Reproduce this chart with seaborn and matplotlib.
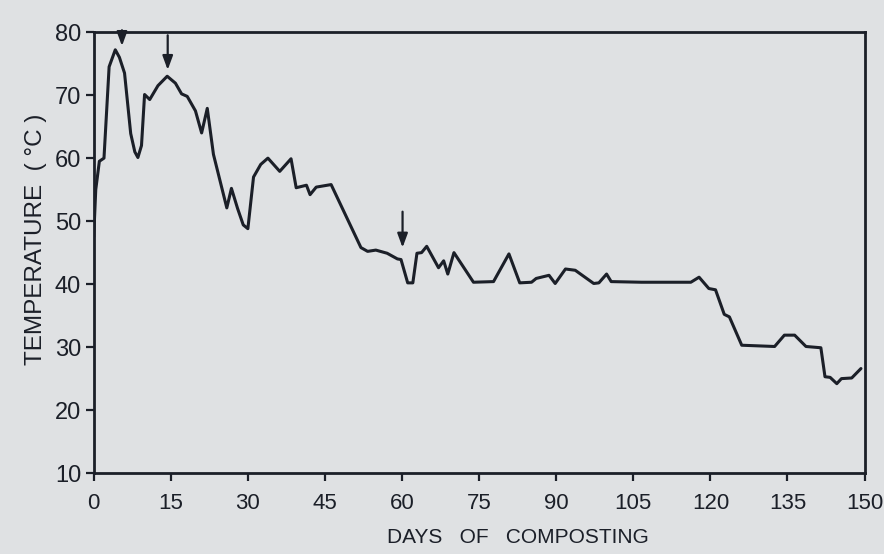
import numpy as np
import pandas as pd
import seaborn as sns
import matplotlib.pyplot as plt

# temperature record
days = [0, 0.4, 1.1, 2.0, 3.0, 4.2, 5.0, 6.0, 7.2, 8.0, 8.6, 9.3, 9.9, 10.9,
        12.5, 14.3, 15.9, 17.1, 18.2, 19.8, 21.0, 22.1, 23.3, 25.9, 26.8,
        28.0, 29.1, 30.0, 31.1, 32.5, 33.9, 36.2, 38.4, 39.4, 41.4, 42.1,
        43.3, 46.2, 52.0, 53.3, 54.9, 57.1, 59.1, 59.8, 61.1, 62.1, 62.9,
        63.8, 64.8, 67.1, 68.1, 68.9, 70.1, 73.9, 77.8, 80.8, 82.9, 85.2,
        86.1, 88.6, 89.8, 91.8, 93.7, 97.3, 98.3, 99.8, 100.7, 106.6, 116.2,
        117.8, 119.7, 121.0, 122.7, 123.7, 126.1, 132.5, 134.4, 136.4, 138.6,
        141.5, 142.3, 143.3, 144.6, 145.5, 147.5, 149.3]
temps = [47.5, 55, 59.5, 60, 74.5, 77.2, 76, 73.5, 63.9, 61, 60.1, 62, 70.1, 69.3,
         71.5, 73, 71.9, 70.2, 69.8, 67.5, 64, 67.9, 60.6, 52.1, 55.2,
         52, 49.4, 48.8, 57, 59, 60, 57.9, 59.9, 55.3, 55.7, 54.2,
         55.4, 55.8, 45.8, 45.2, 45.4, 44.9, 44, 43.9, 40.2, 40.2, 44.9,
         45, 46, 42.6, 43.7, 41.6, 45, 40.3, 40.4, 44.8, 40.2, 40.3,
         40.9, 41.4, 40.1, 42.4, 42.2, 40.1, 40.2, 41.6, 40.4, 40.3, 40.3,
         41.1, 39.3, 39.1, 35.2, 34.8, 30.3, 30.1, 31.9, 31.9, 30.1,
         29.9, 25.3, 25.2, 24.2, 25.0, 25.1, 26.6]

# arrows marking turning events: (day, tail temp, tip temp)
arrow_days = [5.5, 14.4, 60.1]
arrow_tails = [80.3, 79.5, 51.5]
arrow_tips = [77.8, 74.0, 45.8]

x_ticks = [0, 15, 30, 45, 60, 75, 90, 105, 120, 135, 150]
y_ticks = [10, 20, 30, 40, 50, 60, 70, 80]

bg = "#dfe1e3"
ink = "#1b1f28"

sns.set_theme(style="ticks")
plt.rcParams["font.family"] = ["Liberation Sans", "DejaVu Sans"]

df = pd.DataFrame({"day": days, "temp": temps})

fig = plt.figure(figsize=(8.84, 5.54), dpi=100, facecolor=bg)
ax = fig.add_axes([0.106, 0.146, 0.872, 0.796])
ax.set_facecolor(bg)

sns.lineplot(data=df, x="day", y="temp", sort=False, color=ink,
             linewidth=2.2, ax=ax)

for d, t0, t1 in zip(arrow_days, arrow_tails, arrow_tips):
    ax.annotate("", xy=(d, t1), xytext=(d, t0),
                arrowprops=dict(arrowstyle="-|>,head_length=0.6,head_width=0.22",
                                color=ink, lw=1.6, mutation_scale=14,
                                shrinkA=0, shrinkB=0),
                annotation_clip=False)

ax.set_xlim(0, 150)
ax.set_ylim(10, 80)
ax.set_xticks(x_ticks)
ax.set_yticks(y_ticks)
ax.set_xticklabels([str(v) for v in x_ticks])
ax.set_yticklabels([str(v) for v in y_ticks])

for s in ax.spines.values():
    s.set_visible(True)
    s.set_linewidth(2.0)
    s.set_color(ink)

ax.tick_params(axis="both", direction="out", length=6, width=1.6,
               colors=ink, labelsize=17, pad=3)
ax.tick_params(axis="x", pad=8, labelsize=16)

ax.set_xlabel("DAYS   OF   COMPOSTING", fontsize=15, color=ink)
ax.set_ylabel("TEMPERATURE  ( °C )", fontsize=17.5, color=ink)
ax.xaxis.set_label_coords(0.55, -0.125)
ax.yaxis.set_label_coords(-0.061, 0.53)

fig.savefig("out.png", dpi=100, facecolor=bg)
